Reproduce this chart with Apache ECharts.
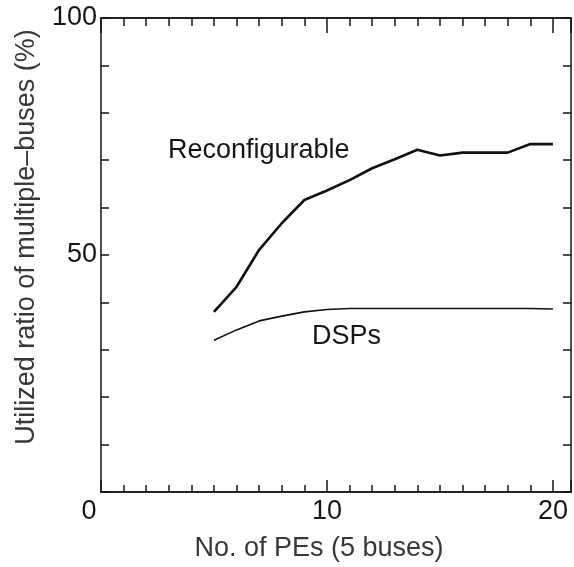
<!DOCTYPE html>
<html>
<head>
<meta charset="utf-8">
<script src="https://cdn.jsdelivr.net/npm/echarts@6/dist/echarts.min.js"></script>
<style>
    html, body { margin: 0; padding: 0; background: #fff; }
    #chart { width: 574px; height: 567px; }
</style>
</head>
<body>
<div id="chart"></div>
<script type="text/javascript">
// data
var pes = [5, 6, 7, 8, 9, 10, 11, 12, 13, 14, 15, 16, 17, 18, 19, 20];
var reconfigurable = [38.0, 43.3, 51.1, 56.7, 61.6, 63.6, 65.8, 68.3, 70.2, 72.2, 71.0, 71.6, 71.6, 71.6, 73.4, 73.4];
var dsps = [32.0, 34.2, 36.1, 37.1, 38.0, 38.5, 38.7, 38.7, 38.7, 38.7, 38.7, 38.7, 38.7, 38.7, 38.7, 38.6];
var xLabels = [0, 10, 20];
var yLabels = [50, 100];

var font = '"Liberation Sans", Arial, sans-serif';
var ink = '#161616';

function pairs(xs, ys) {
    return xs.map(function (x, i) { return [x, ys[i]]; });
}

var chart = echarts.init(document.getElementById('chart'), null, {renderer: 'canvas'});

var gridRect = {left: 101, right: 3, top: 18, bottom: 75};

// x axis template: ticks inside, no labels
function xAxisOf(grid, pos, interval, tickLen) {
    return {
        type: 'value', gridIndex: grid, position: pos, min: 0, max: 20.8, interval: interval,
        axisLine: {show: true, onZero: false, lineStyle: {color: ink, width: 1.5}},
        axisTick: {show: true, inside: true, length: tickLen, lineStyle: {color: ink, width: 1.5}},
        splitLine: {show: false},
        axisLabel: {show: false}
    };
}

var xBottom = xAxisOf(0, 'bottom', 1, 7);
xBottom.axisLabel = {
    show: true, margin: 6, fontSize: 27, color: ink, fontFamily: font,
    showMaxLabel: false,
    formatter: function (v) {
        if (v === 0) return '{z|0}';
        return xLabels.indexOf(v) >= 0 ? String(v) : '';
    },
    rich: {z: {fontSize: 27, color: ink, fontFamily: font, padding: [0, 24, 0, 0]}}
};

function yAxisOf(grid, pos, show) {
    return {
        type: 'value', gridIndex: grid, position: pos, min: 0, max: 100, interval: 10,
        axisLine: {show: show, onZero: false, lineStyle: {color: ink, width: 1.5}},
        axisTick: {show: show, inside: true, length: 8, lineStyle: {color: ink, width: 1.5}},
        splitLine: {show: false},
        axisLabel: {show: false}
    };
}

var yLeft = yAxisOf(0, 'left', true);
yLeft.axisLabel = {
    show: true, margin: 4, fontSize: 27, color: ink, fontFamily: font,
    formatter: function (v) { return yLabels.indexOf(v) >= 0 ? String(v) : ''; }
};

var option = {
    animation: false,
    // second grid on the same rect only carries the longer ticks at 10 and 20
    grid: [gridRect, Object.assign({}, gridRect)],
    xAxis: [
        xBottom,
        xAxisOf(0, 'top', 1, 8),
        xAxisOf(1, 'bottom', 10, 12),
        xAxisOf(1, 'top', 10, 15)
    ],
    yAxis: [
        yLeft,
        yAxisOf(0, 'right', true),
        yAxisOf(1, 'left', false)
    ],
    series: [
        {
            name: 'Reconfigurable', type: 'line', xAxisIndex: 0, yAxisIndex: 0,
            data: pairs(pes, reconfigurable), showSymbol: false, symbol: 'none',
            lineStyle: {color: '#111', width: 2.6}
        },
        {
            name: 'DSPs', type: 'line', xAxisIndex: 0, yAxisIndex: 0,
            data: pairs(pes, dsps), showSymbol: false, symbol: 'none',
            lineStyle: {color: '#111', width: 1.6}
        }
    ],
    graphic: [
        {type: 'text', left: 168, top: 137,
            style: {text: 'Reconfigurable', font: '27px ' + font, fill: ink}},
        {type: 'text', left: 312, top: 323,
            style: {text: 'DSPs', font: '27px ' + font, fill: ink}},
        {type: 'text', x: 319, y: 549,
            style: {text: 'No. of PEs (5 buses)', font: '27px ' + font, fill: '#383838',
                textAlign: 'center', textVerticalAlign: 'middle'}},
        {type: 'text', x: 27, y: 237, rotation: Math.PI / 2,
            style: {text: 'Utilized ratio of multiple–buses (%)', font: '27px ' + font, fill: '#383838',
                textAlign: 'center', textVerticalAlign: 'middle'}}
    ]
};

chart.setOption(option);
</script>
</body>
</html>
